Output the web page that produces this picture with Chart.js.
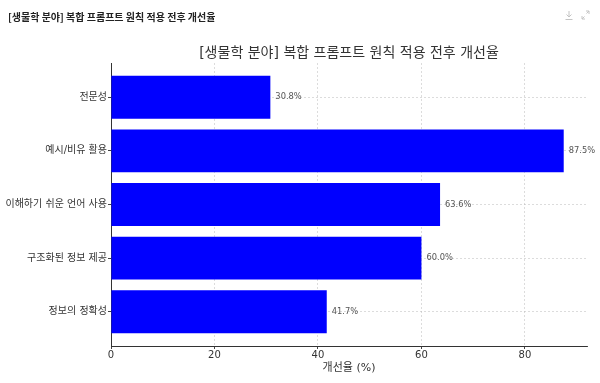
<!DOCTYPE html>
<html>
<head>
<meta charset="utf-8">
<script src="https://cdn.jsdelivr.net/npm/chart.js@4/dist/chart.umd.min.js"></script>
<style>
  html, body { margin: 0; padding: 0; background: #fff; }
  #wrap { position: relative; width: 600px; height: 383px; overflow: hidden; }
  #c { position: absolute; left: 0; top: 0; }
  #hdr { position: absolute; left: 8px; top: 9px; font: bold 10px "Noto Sans CJK KR", "DejaVu Sans", sans-serif; color: #222; white-space: nowrap; }
  #icons { position: absolute; left: 563px; top: 9px; }
</style>
</head>
<body>
<div id="wrap">
  <canvas id="c" width="600" height="383"></canvas>
  <div id="hdr">[생물학 분야] 복합 프롬프트 원칙 적용 전후 개선율</div>
  <svg id="icons" width="30" height="14" viewBox="0 0 30 14">
    <g stroke="#c4c4c4" stroke-width="1" fill="none">
      <line x1="6" y1="2" x2="6" y2="8"/>
      <polyline points="3.5,5.5 6,8 8.5,5.5"/>
      <line x1="2.5" y1="10.5" x2="9.5" y2="10.5"/>
      <polyline points="19,7 19,10 22,10"/>
      <line x1="19" y1="10" x2="21.5" y2="7.5"/>
      <polyline points="26,2 26,5"/>
      <polyline points="23,2 26,2"/>
      <line x1="26" y1="2" x2="23.5" y2="4.5"/>
    </g>
  </svg>
</div>
<script>
const chartTitle = "[생물학 분야] 복합 프롬프트 원칙 적용 전후 개선율";
const categories = ["전문성", "예시/비유 활용", "이해하기 쉬운 언어 사용", "구조화된 정보 제공", "정보의 정확성"];
const improvement = [30.8, 87.5, 63.6, 60.0, 41.7];
const xTicks = [0, 20, 40, 60, 80];
const xAxisTitle = "개선율 (%)";

const FONT = '"DejaVu Sans", "Noto Sans CJK KR", sans-serif';

const points = categories.map((c, i) => ({ x: improvement[i], y: i }));

const titlePlugin = {
  id: 'plotTitle',
  afterDraw(chart) {
    const { ctx, chartArea } = chart;
    ctx.save();
    ctx.font = '14px ' + FONT;
    ctx.fillStyle = '#333';
    ctx.textAlign = 'center';
    ctx.textBaseline = 'middle';
    ctx.fillText(chartTitle, (chartArea.left + chartArea.right) / 2, 53);
    ctx.restore();
  }
};

const labelPlugin = {
  id: 'barLabels',
  afterDatasetsDraw(chart) {
    const { ctx } = chart;
    const meta = chart.getDatasetMeta(0);
    ctx.save();
    ctx.font = '8.3px ' + FONT;
    ctx.fillStyle = '#555';
    ctx.textAlign = 'left';
    ctx.textBaseline = 'middle';
    meta.data.forEach((el, i) => {
      ctx.fillText(improvement[i].toFixed(1) + '%', el.x + 5, el.y);
    });
    ctx.restore();
  }
};

new Chart(document.getElementById('c'), {
  type: 'bar',
  data: {
    datasets: [{
      data: points,
      backgroundColor: '#0000FF',
      borderWidth: 0,
      barPercentage: 0.8,
      categoryPercentage: 1.0
    }]
  },
  options: {
    indexAxis: 'y',
    responsive: false,
    animation: false,
    devicePixelRatio: 1,
    layout: { padding: { left: 0, right: 13, top: 63, bottom: 8 } },
    plugins: {
      legend: { display: false },
      tooltip: { enabled: false },
      title: { display: false }
    },
    scales: {
      x: {
        type: 'linear',
        min: 0,
        max: 92,
        z: 1,
        offset: false,
        afterBuildTicks(axis) { axis.ticks = xTicks.map(v => ({ value: v })); },
        afterFit(scale) { scale.height = 29; },
        grid: {
          offset: false,
          color: 'rgba(180,180,180,0.6)',
          lineWidth: 0.8,
          drawTicks: true,
          tickLength: 3,
          tickColor: '#444',
          tickWidth: 1,
          tickBorderDash: []
        },
        border: { display: true, color: '#333', width: 1, dash: [2, 2] },
        ticks: { color: '#333', font: { family: FONT, size: 10 }, padding: 0 },
        title: { display: true, text: xAxisTitle, color: '#333', font: { family: FONT, size: 11 }, padding: { top: 0, bottom: 0 } }
      },
      y: {
        type: 'linear',
        min: -0.64,
        max: 4.64,
        reverse: true,
        offset: false,
        z: 1,
        afterBuildTicks(axis) { axis.ticks = categories.map((c, i) => ({ value: i })); },
        afterFit(scale) { scale.width = 111; },
        grid: {
          offset: false,
          color: 'rgba(180,180,180,0.6)',
          lineWidth: 0.8,
          drawTicks: true,
          tickLength: 3,
          tickColor: '#444',
          tickWidth: 1,
          tickBorderDash: []
        },
        border: { display: true, color: '#333', width: 1, dash: [2, 2] },
        ticks: {
          color: '#333',
          font: { family: FONT, size: 10 },
          padding: 1,
          autoSkip: false,
          callback: (v) => categories[v]
        }
      }
    }
  },
  plugins: [titlePlugin, labelPlugin]
});
</script>
</body>
</html>
